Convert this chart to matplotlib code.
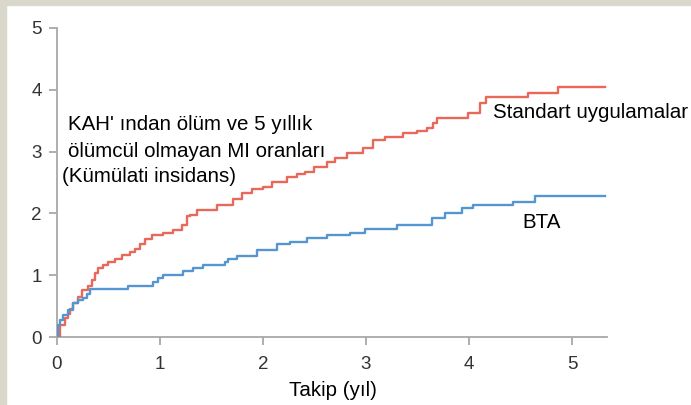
import matplotlib
matplotlib.use("Agg")
import matplotlib.pyplot as plt
from matplotlib.patches import Rectangle

# Standart uygulamalar (red) - step times (years) and cumulative incidence
red_t = [0.0, 0.03, 0.08, 0.11, 0.13, 0.16, 0.20, 0.24, 0.30, 0.34, 0.37, 0.40,
         0.45, 0.50, 0.56, 0.63, 0.71, 0.76, 0.81, 0.85, 0.92, 1.03, 1.13, 1.21,
         1.26, 1.29, 1.36, 1.55, 1.71, 1.80, 1.89, 2.00, 2.09, 2.23, 2.33, 2.41,
         2.50, 2.62, 2.70, 2.82, 2.97, 3.07, 3.18, 3.36, 3.50, 3.59, 3.65, 3.69,
         3.99, 4.11, 4.17, 4.57, 4.86, 5.32]
red_y = [0.0, 0.19, 0.30, 0.38, 0.46, 0.55, 0.65, 0.76, 0.82, 0.92, 1.03, 1.11,
         1.17, 1.22, 1.27, 1.33, 1.38, 1.43, 1.51, 1.59, 1.65, 1.68, 1.73, 1.81,
         1.95, 1.98, 2.05, 2.13, 2.24, 2.33, 2.40, 2.43, 2.51, 2.59, 2.64, 2.67,
         2.75, 2.83, 2.90, 2.98, 3.06, 3.19, 3.24, 3.30, 3.33, 3.38, 3.46, 3.54,
         3.62, 3.78, 3.89, 3.95, 4.05, 4.05]

# BTA (blue)
blue_t = [0.0, 0.005, 0.03, 0.06, 0.11, 0.16, 0.20, 0.25, 0.29, 0.32, 0.69, 0.93,
          0.98, 1.03, 1.22, 1.32, 1.42, 1.63, 1.66, 1.75, 1.94, 2.14, 2.26, 2.43,
          2.62, 2.84, 2.99, 3.30, 3.64, 3.77, 3.93, 4.04, 4.43, 4.64, 5.32]
blue_y = [0.0, 0.19, 0.27, 0.35, 0.43, 0.55, 0.60, 0.63, 0.70, 0.78, 0.82, 0.89,
          0.95, 1.01, 1.06, 1.11, 1.16, 1.21, 1.27, 1.31, 1.40, 1.50, 1.54, 1.60,
          1.65, 1.69, 1.75, 1.82, 1.93, 2.00, 2.08, 2.14, 2.18, 2.28, 2.28]

x_ticks = [0, 1, 2, 3, 4, 5]
y_ticks = [0, 1, 2, 3, 4, 5]

title_lines = ["KAH' ından ölüm ve 5 yıllık", "ölümcül olmayan MI oranları", "(Kümülati insidans)"]
label_red = "Standart uygulamalar"
label_blue = "BTA"
xlabel = "Takip (yıl)"

plt.rcParams['font.family'] = ['Liberation Sans', 'DejaVu Sans']

W, H = 691, 405
fig = plt.figure(figsize=(W / 100, H / 100), dpi=100)
fig.patch.set_facecolor("white")

# light frame on left/top
frame_col = "#d9d8cb"
fig.patches.append(Rectangle((0, 0), 6 / W, 1, transform=fig.transFigure, color=frame_col, zorder=0))
fig.patches.append(Rectangle((0, 1 - 5 / H), 1, 5 / H, transform=fig.transFigure, color=frame_col, zorder=0))

ax = fig.add_axes([57 / W, (H - 337) / H, (607 - 57) / W, (337 - 28) / H])
ax.set_facecolor("none")

red_c = "#e8685a"
blue_c = "#5596d2"
ax.step(red_t, red_y, where="post", color=red_c, lw=1.7, zorder=3)
ax.step(blue_t, blue_y, where="post", color=blue_c, lw=1.7, zorder=3)

ax.set_xlim(0, 5.34)
ax.set_ylim(0, 5)
ax.set_xticks(x_ticks)
ax.set_yticks(y_ticks)

spine_c = "#a8a8a8"
for s in ["top", "right"]:
    ax.spines[s].set_visible(False)
for s in ["left", "bottom"]:
    ax.spines[s].set_color(spine_c)
    ax.spines[s].set_linewidth(1.3)
ax.tick_params(axis="both", colors=spine_c, length=6, width=1.3, labelsize=13.5,
               labelcolor="#333333", direction="out")
ax.tick_params(axis="x", pad=8)
ax.tick_params(axis="y", pad=5)

fs = 14.8
fig.text(68 / W, 1 - 125 / H, title_lines[0], fontsize=fs, va="center", ha="left", color="black")
fig.text(68 / W, 1 - 151 / H, title_lines[1], fontsize=fs, va="center", ha="left", color="black")
fig.text(62 / W, 1 - 176 / H, title_lines[2], fontsize=fs, va="center", ha="left", color="black")
fig.text(493 / W, 1 - 113 / H, label_red, fontsize=fs, va="center", ha="left", color="black")
fig.text(522 / W, 1 - 222 / H, label_blue, fontsize=fs, va="center", ha="left", color="black")
fig.text(333 / W, 1 - 390 / H, xlabel, fontsize=fs, va="center", ha="center", color="black")

fig.savefig("out.png", dpi=100)
